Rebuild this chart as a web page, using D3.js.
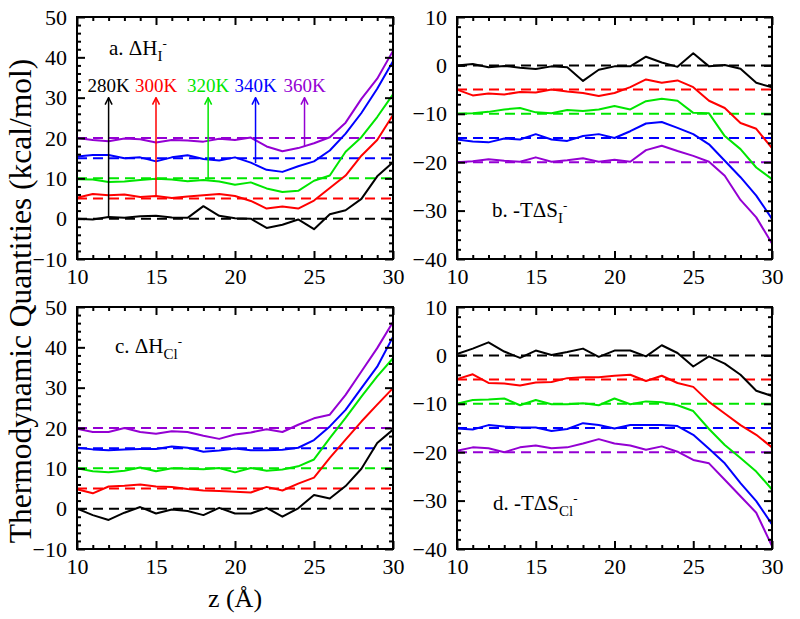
<!DOCTYPE html>
<html><head><meta charset="utf-8">
<script src="https://cdnjs.cloudflare.com/ajax/libs/d3/7.8.5/d3.min.js"></script>
<style>body{margin:0;background:#fff;} svg{display:block;} svg text{font-family:"Liberation Serif","Times New Roman",serif !important;}</style>
</head><body><svg id="c" width="800" height="619"></svg>
<script>
const z = [10,11,12,13,14,15,16,17,18,19,20,21,22,23,24,25,26,27,28,29,30];
const temps = ["280K","300K","320K","340K","360K"];
const colors = ["#000000","#ff0000","#00e600","#0000ff","#9400d3"];
const refsH = [0,5,10,15,20];
const refsS = [0,-5,-10,-15,-20];

// panel a: dH I-
const a280 = [0,-0.2,0.4,0.2,0.6,0.7,0.3,0.2,3.1,0.7,0.1,0,-2.3,-1.5,-0.2,-2.6,1.1,2.1,4.9,10.5,14];
const a300 = [5.2,6.1,5.8,6.0,5.4,5.6,5.1,5.5,5.8,6.1,5.6,4.4,2.5,3.0,2.5,4.5,7.6,10.7,15.6,19.5,25.7];
const a320 = [9.8,9.7,9.1,9.2,9.6,9.9,9.7,9.3,9.6,9.2,8.4,9.0,7.5,6.6,6.9,9.4,10.7,16.6,20.2,25.2,30.8];
const a340 = [15.4,15.8,15.8,15.0,15.2,14.2,15.2,15.7,14.8,14.4,15.2,13.9,12.1,11.6,13.0,14.2,16.9,21.1,26.2,32.2,39.0];
const a360 = [20.0,19.5,19.2,19.9,19.7,18.9,19.5,19.4,19.1,19.8,19.5,20.1,17.9,16.7,17.5,18.7,20.2,23.8,29.7,34.7,41.6];
// panel b: -TdS I-
const b280 = [0,0.3,-0.4,-0.1,-0.5,-0.75,-0.2,-0.4,-3.2,-0.9,-0.2,-0.2,1.8,0.6,-0.3,2.5,-0.2,0.1,-0.7,-3.6,-4.5];
const b300 = [-5.0,-6.2,-5.8,-6.0,-5.5,-5.6,-5.0,-5.4,-5.7,-6.3,-5.7,-4.5,-2.9,-3.6,-3.1,-4.5,-7.3,-8.8,-11.9,-13.1,-17.1];
const b320 = [-10,-9.9,-9.6,-9.1,-8.8,-9.7,-9.9,-9.2,-9.4,-9.1,-8.4,-9.1,-7.4,-6.9,-7.3,-9.8,-9.9,-14.6,-17.3,-21.1,-23.5];
const b340 = [-15.3,-15.7,-15.9,-15.1,-15.3,-14.2,-15.3,-15.6,-14.6,-14.2,-15.0,-13.6,-12.0,-11.7,-12.9,-14.2,-16.3,-19.7,-23.1,-26.9,-31.7];
const b360 = [-20,-19.8,-19.4,-19.7,-19.9,-19.0,-19.9,-19.6,-19.2,-19.9,-19.5,-19.9,-17.5,-16.6,-17.7,-18.7,-19.9,-22.8,-27.8,-31.4,-36.8];
// panel c: dH Cl-
const c280 = [0,-1.6,-2.8,-1.0,0.4,-1.2,-0.2,-0.6,-1.6,0.2,-1.2,-1.2,0.2,-2.0,0.1,3.4,2.5,5.6,9.9,16.3,19.6];
const c300 = [4.8,3.8,5.5,5.7,6.0,5.5,5.4,4.9,4.5,4.4,4.2,4.0,5.4,4.5,6.2,7.7,12.6,17.1,21.6,25.8,29.9];
const c320 = [10,9.3,9.0,9.4,10.2,9.3,10,9.9,9.8,10.1,9.0,10.1,9.4,9.7,10.5,12.2,17.5,22.5,27.8,32.8,37.3];
const c340 = [15.1,14.7,14.5,14.7,14.8,14.8,15.4,15.1,14.1,14.4,14.9,14.5,14.5,14.6,15.1,17.0,20.4,24.5,29.9,35.2,42.6];
const c360 = [19.8,19.0,19.0,20.0,19.0,18.6,19.2,19.0,18.1,17.3,18.4,18.9,19.7,19.0,20.8,22.4,23.3,28.2,34.0,39.8,46.3];
// panel d: -TdS Cl-
const d280 = [0.3,1.4,2.7,0.8,-0.5,1.0,0.1,0.7,1.4,-0.3,1.0,1.0,-0.2,2.1,0.5,-2.3,-0.2,-1.7,-4.0,-7.3,-8.4];
const d300 = [-4.9,-3.9,-5.7,-5.8,-6.2,-5.6,-5.5,-4.7,-4.5,-4.5,-4.2,-4.0,-5.3,-4.2,-5.7,-6.5,-9.6,-12.0,-14.4,-16.4,-19.0];
const d320 = [-10,-9.2,-9.1,-8.9,-10.3,-9.2,-10.1,-10.1,-9.9,-10.3,-8.9,-10.1,-9.5,-9.7,-10.3,-11.5,-15.2,-18.5,-21.2,-24.0,-27.7];
const d340 = [-15.1,-15.3,-14.4,-14.7,-14.9,-14.9,-15.6,-15.2,-14.0,-14.4,-15.1,-14.4,-14.4,-14.4,-14.6,-16.4,-19.3,-22.3,-26.4,-30.1,-34.9];
const d360 = [-19.7,-19.0,-19.2,-20.0,-19.0,-18.6,-19.2,-19.0,-18.2,-17.3,-18.2,-18.6,-19.5,-18.8,-19.9,-21.6,-22.3,-25.7,-29.1,-32.5,-39.4];

// arrows in panel a
const arrowX = [12,15,18.3,21.3,24.4];
const arrowFrom = [0.2,5.6,9.7,13.8,18.0];
const arrowTo = 30;
const labelY = 31.3;

const xTicks = [10,15,20,25,30];
const yTicksH = [-10,0,10,20,30,40,50];
const yTicksS = [-40,-30,-20,-10,0,10];

const panels = [
  {x0:77,x1:393,y0:17,y1:259,dom:[-10,50],ticks:yTicksH,series:[a280,a300,a320,a340,a360],refs:refsH,
   label:{x:109,y:55,a:"a. ",b:"ΔH",sub:"I",sup:"-"},arrows:true},
  {x0:457,x1:772,y0:17,y1:259,dom:[-40,10],ticks:yTicksS,series:[b280,b300,b320,b340,b360],refs:refsS,
   label:{x:492,y:217,a:"b. -T",b:"ΔS",sub:"I",sup:"-"}},
  {x0:77,x1:393,y0:307,y1:549,dom:[-10,50],ticks:yTicksH,series:[c280,c300,c320,c340,c360],refs:refsH,
   label:{x:115,y:353,a:"c. ",b:"ΔH",sub:"Cl",sup:"-"}},
  {x0:457,x1:772,y0:307,y1:549,dom:[-40,10],ticks:yTicksS,series:[d280,d300,d320,d340,d360],refs:refsS,
   label:{x:493,y:510,a:"d. -T",b:"ΔS",sub:"Cl",sup:"-"}}
];

const FONT = '"Liberation Serif","Times New Roman",serif';
const svg = d3.select("#c").style("font-family",FONT);
const defs = svg.append("defs");
colors.forEach((c,i)=>{
  defs.append("marker").attr("id","ah"+i).attr("viewBox","-5 -1 10 10")
    .attr("refX",0).attr("refY",0).attr("markerWidth",10).attr("markerHeight",10)
    .attr("markerUnits","userSpaceOnUse").attr("orient","0")
    .append("path").attr("d","M-3.5,7 L0,0 L3.5,7").attr("fill","none").attr("stroke",c).attr("stroke-width",1.5);
});

panels.forEach(p=>{
  const x = d3.scaleLinear().domain([10,30]).range([p.x0,p.x1]);
  const y = d3.scaleLinear().domain(p.dom).range([p.y1,p.y0]);
  const g = svg.append("g");
  const line = d3.line().x((d,i)=>x(z[i])).y(d=>y(d));

  p.refs.forEach((r,i)=>{
    g.append("path").datum([r,r]).attr("d",d3.line().x((d,j)=>x(j?30:10)).y(d=>y(d)))
      .attr("stroke",colors[i]).attr("stroke-width",2).attr("stroke-dasharray","10,6").attr("fill","none");
  });
  p.series.forEach((s,i)=>{
    g.append("path").datum(s).attr("d",line).attr("stroke",colors[i]).attr("stroke-width",2)
      .attr("fill","none").attr("stroke-linejoin","round");
  });
  if(p.arrows){
    arrowX.forEach((ax,i)=>{
      g.append("line").attr("x1",x(ax)).attr("x2",x(ax)).attr("y1",y(arrowFrom[i])).attr("y2",y(arrowTo))
        .attr("stroke",colors[i]).attr("stroke-width",1.5).attr("marker-end","url(#ah"+i+")");
      g.append("text").attr("x",x(ax)).attr("y",y(labelY)).attr("text-anchor","middle")
        .style("font-family",FONT).attr("font-size",19).attr("fill",colors[i]).text(temps[i]);
    });
  }
  g.append("rect").attr("x",p.x0).attr("y",p.y0).attr("width",p.x1-p.x0).attr("height",p.y1-p.y0)
    .attr("fill","none").attr("stroke","#000").attr("stroke-width",2);

  const xMinor = d3.range(10,31,1).filter(v=>v%5!==0);
  const yMinor = d3.range(p.dom[0],p.dom[1]+0.1,2).filter(v=>v%10!==0);
  const style = sel=>{ sel.attr("font-family",null).attr("font-size",null);
    sel.select(".domain").remove(); sel.selectAll("line").attr("stroke","#000").attr("stroke-width",2);
    sel.selectAll("text").style("font-family",FONT).style("font-size","22px").attr("fill","#000"); };

  g.append("g").attr("transform",`translate(0,${p.y1})`)
    .call(d3.axisBottom(x).tickValues(xTicks).tickSize(-8).tickPadding(9).tickFormat(d3.format("d"))).call(style);
  g.append("g").attr("transform",`translate(0,${p.y1})`)
    .call(d3.axisBottom(x).tickValues(xMinor).tickSize(-4).tickFormat("")).call(style);
  g.append("g").attr("transform",`translate(0,${p.y0})`)
    .call(d3.axisTop(x).tickValues(xTicks).tickSize(-8).tickFormat("")).call(style);
  g.append("g").attr("transform",`translate(0,${p.y0})`)
    .call(d3.axisTop(x).tickValues(xMinor).tickSize(-4).tickFormat("")).call(style);
  g.append("g").attr("transform",`translate(${p.x0},0)`)
    .call(d3.axisLeft(y).tickValues(p.ticks).tickSize(-8).tickPadding(10).tickFormat(d3.format("d"))).call(style);
  g.append("g").attr("transform",`translate(${p.x0},0)`)
    .call(d3.axisLeft(y).tickValues(yMinor).tickSize(-4).tickFormat("")).call(style);
  g.append("g").attr("transform",`translate(${p.x1},0)`)
    .call(d3.axisRight(y).tickValues(p.ticks).tickSize(-8).tickFormat("")).call(style);
  g.append("g").attr("transform",`translate(${p.x1},0)`)
    .call(d3.axisRight(y).tickValues(yMinor).tickSize(-4).tickFormat("")).call(style);

  const L = p.label;
  const t = g.append("text").attr("x",L.x).attr("y",L.y).style("font-family",FONT).attr("font-size",21).attr("fill","#000");
  t.append("tspan").text(L.a);
  t.append("tspan").text(L.b);
  t.append("tspan").attr("font-size",15).attr("dy",6).text(L.sub);
  t.append("tspan").attr("font-size",13).attr("dy",-13).text(L.sup);
});

svg.append("text").attr("transform","translate(31,301) rotate(-90)").attr("text-anchor","middle")
  .style("font-family",FONT).attr("font-size",31.5).text("Thermodynamic Quantities (kcal/mol)");
svg.append("text").attr("x",235).attr("y",607).attr("text-anchor","middle")
  .style("font-family",FONT).attr("font-size",26).text("z (Å)");
</script></body></html>
